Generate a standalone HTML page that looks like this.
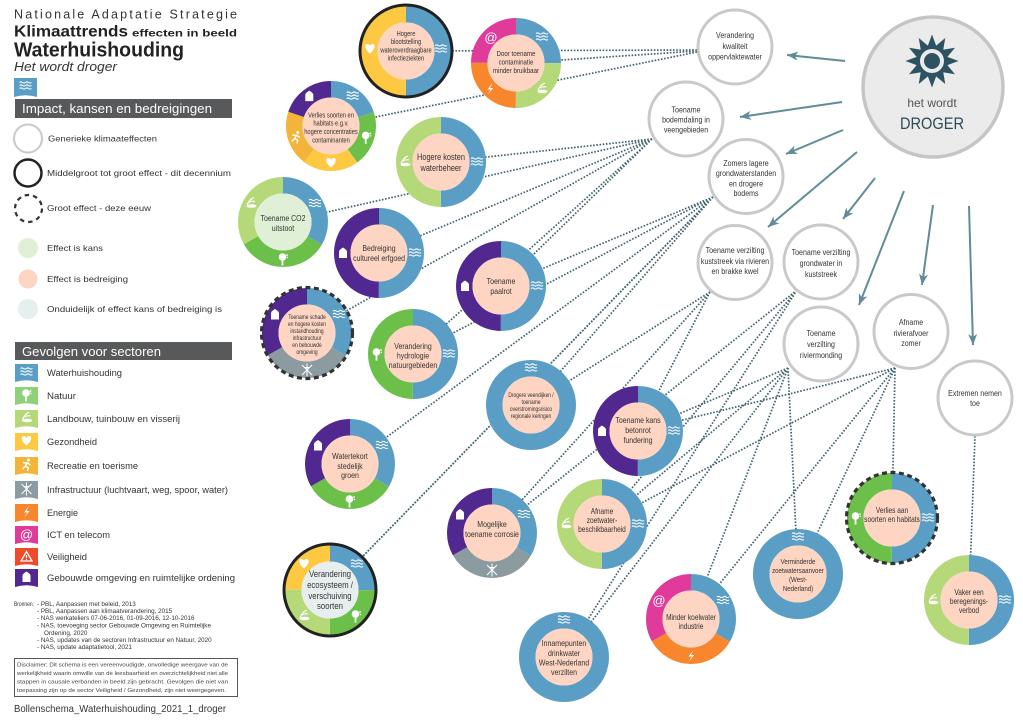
<!DOCTYPE html>
<html><head><meta charset="utf-8"><style>
html,body{margin:0;padding:0;background:#fff;}
svg{display:block;}
</style></head>
<body>
<svg width="1023" height="725" viewBox="0 0 1023 725" xmlns="http://www.w3.org/2000/svg" font-family="'Liberation Sans', Arial, sans-serif">
<defs>
<marker id="ah" markerWidth="12" markerHeight="10" refX="11" refY="5" orient="auto" markerUnits="userSpaceOnUse"><path d="M0,0.5 L11,5 L0,9.5 L3,5 Z" fill="#5f8c96"/></marker>
<g id="iw" stroke="#fff" stroke-width="1.1" fill="none"><path d="M-6,-3.5 q1.5,-1.2 3,0 t3,0 t3,0 t3,0 M-6,-0.5 q1.5,-1.2 3,0 t3,0 t3,0 t3,0 M-6,2.5 q1.5,-1.2 3,0 t3,0 t3,0 t3,0"/></g>
<g id="ih"><path d="M0,4.5 C-6,-0.5 -5.5,-5 -2.7,-5 C-1.2,-5 -0.3,-4 0,-3 C0.3,-4 1.2,-5 2.7,-5 C5.5,-5 6,-0.5 0,4.5Z" fill="#fff"/></g>
<g id="ib"><path d="M-4,5V-1.5Q-4,-3 0,-5.5Q4,-3 4,-1.5V5Z" fill="#fff"/></g>
<g id="it"><circle cx="-0.5" cy="-2" r="3.8" fill="#fff"/><rect x="-1.4" y="1" width="1.8" height="5.5" fill="#fff"/><circle cx="4" cy="-4" r="0.9" fill="#fff"/><circle cx="4.5" cy="-1.5" r="0.7" fill="#fff"/></g>
<g id="il"><ellipse cx="0.5" cy="2.5" rx="5" ry="1.8" fill="#fff"/><path d="M-4,1.5 Q-2,-4 3,-6 M-2,-1 Q1,-3 4,-2" stroke="#fff" fill="none" stroke-width="1.2"/></g>
<g id="ie"><path d="M2.5,-6 L-2.5,0.5 H0.8 L-2.5,6 L3.2,-1 H0 Z" fill="#fff"/></g>
<g id="ix" stroke="#fff" stroke-width="1" fill="none"><path d="M-5,-5L5,5M5,-5L-5,5M0,-6.5V6.5M-2,-2.5h4"/></g>
<g id="ir"><circle cx="2" cy="-5" r="1.5" fill="#fff"/><path d="M1,-3 L-1,1 L2,3 L1,6 M-1,1 L-4,4 M0,-2 L-3.5,-2.5 M1,-2 L4,0" stroke="#fff" stroke-width="1.4" fill="none"/></g>
<g id="iv"><path d="M0,-5 L5.5,4.5 H-5.5Z" fill="none" stroke="#fff" stroke-width="1.3"/><path d="M0,-1.5V1.6" stroke="#fff" stroke-width="1.2"/><circle cx="0" cy="3" r="0.6" fill="#fff"/></g>
</defs>

<!-- ============ LEFT LEGEND ============ -->
<text x="14" y="18.5" font-family="'Liberation Sans', 'DejaVu Sans', sans-serif" font-size="12.5" fill="#333" textLength="223" lengthAdjust="spacing">Nationale Adaptatie Strategie</text>
<text x="14" y="36.5" font-family="'Liberation Sans', 'DejaVu Sans', sans-serif" font-size="16" font-weight="bold" fill="#222" textLength="114" lengthAdjust="spacingAndGlyphs">Klimaattrends</text>
<text x="132" y="36.5" font-family="'Liberation Sans', 'DejaVu Sans', sans-serif" font-size="10" font-weight="bold" fill="#222" textLength="105" lengthAdjust="spacingAndGlyphs">effecten in beeld</text>
<text x="14" y="56.5" font-family="'Liberation Sans', 'DejaVu Sans', sans-serif" font-size="20" font-weight="bold" fill="#222" textLength="170" lengthAdjust="spacingAndGlyphs">Waterhuishouding</text>
<text x="14" y="71" font-family="'Liberation Sans', 'DejaVu Sans', sans-serif" font-size="13" font-style="italic" fill="#333" textLength="103" lengthAdjust="spacingAndGlyphs">Het wordt droger</text>
<g transform="translate(14,78)"><path d="M0,0H23V19Q11.5,15.5 0,19Z" fill="#5a9ec6"/><use href="#iw" x="11.5" y="8"/></g>

<rect x="15" y="99" width="217" height="19" fill="#58595b"/>
<text x="22" y="113" font-size="13" fill="#fff" textLength="190" lengthAdjust="spacingAndGlyphs">Impact, kansen en bedreigingen</text>

<circle cx="28" cy="138.5" r="14" fill="none" stroke="#c9c9c9" stroke-width="2"/>
<text x="48" y="141.5" font-size="8.5" fill="#333" textLength="109" lengthAdjust="spacingAndGlyphs">Generieke klimaateffecten</text>
<circle cx="28" cy="173" r="13.5" fill="none" stroke="#222" stroke-width="2.5"/>
<text x="47" y="176" font-size="8.5" fill="#333" textLength="184" lengthAdjust="spacingAndGlyphs">Middelgroot tot groot effect - dit decennium</text>
<circle cx="28.5" cy="208.5" r="13.5" fill="none" stroke="#333" stroke-width="2.2" stroke-dasharray="4.5 4"/>
<text x="47" y="211" font-size="8.5" fill="#333" textLength="104" lengthAdjust="spacingAndGlyphs">Groot effect - deze eeuw</text>
<circle cx="28" cy="248" r="10" fill="#dff0d6"/>
<text x="47" y="251" font-size="8.5" fill="#333" textLength="56" lengthAdjust="spacingAndGlyphs">Effect is kans</text>
<circle cx="28" cy="279" r="9.5" fill="#fdd5c2"/>
<text x="47" y="282" font-size="8.5" fill="#333" textLength="81" lengthAdjust="spacingAndGlyphs">Effect is bedreiging</text>
<circle cx="28" cy="309" r="10" fill="#e7eeee"/>
<text x="47" y="312" font-size="8.5" fill="#333" textLength="175" lengthAdjust="spacingAndGlyphs">Onduidelijk of effect kans of bedreiging is</text>

<rect x="15" y="342" width="217" height="18" fill="#58595b"/>
<text x="22" y="356" font-size="13" fill="#fff" textLength="139" lengthAdjust="spacingAndGlyphs">Gevolgen voor sectoren</text>

<g font-size="9" fill="#333">
<g transform="translate(15,364)"><path d="M0,0H23V18Q11.5,14.5 0,18Z" fill="#5a9ec6"/><use href="#iw" x="11.5" y="8"/></g>
<text x="47" y="376" textLength="75" lengthAdjust="spacingAndGlyphs">Waterhuishouding</text>
<g transform="translate(15,387)"><path d="M0,0H23V18Q11.5,14.5 0,18Z" fill="#8fd07a"/><use href="#it" x="11.5" y="8"/></g>
<text x="47" y="399" textLength="29" lengthAdjust="spacingAndGlyphs">Natuur</text>
<g transform="translate(15,410)"><path d="M0,0H23V18Q11.5,14.5 0,18Z" fill="#b5d878"/><use href="#il" x="11.5" y="8"/></g>
<text x="47" y="422" textLength="133" lengthAdjust="spacingAndGlyphs">Landbouw, tuinbouw en visserij</text>
<g transform="translate(15,433)"><path d="M0,0H23V18Q11.5,14.5 0,18Z" fill="#fdc943"/><use href="#ih" x="11.5" y="8"/></g>
<text x="47" y="445" textLength="50" lengthAdjust="spacingAndGlyphs">Gezondheid</text>
<g transform="translate(15,457)"><path d="M0,0H23V18Q11.5,14.5 0,18Z" fill="#f3b43a"/><use href="#ir" x="11.5" y="8"/></g>
<text x="47" y="469" textLength="91" lengthAdjust="spacingAndGlyphs">Recreatie en toerisme</text>
<g transform="translate(15,481)"><path d="M0,0H23V18Q11.5,14.5 0,18Z" fill="#8b9ba0"/><use href="#ix" x="11.5" y="8"/></g>
<text x="47" y="493" textLength="181" lengthAdjust="spacingAndGlyphs">Infrastructuur (luchtvaart, weg, spoor, water)</text>
<g transform="translate(15,504)"><path d="M0,0H23V18Q11.5,14.5 0,18Z" fill="#f7862d"/><use href="#ie" x="11.5" y="8"/></g>
<text x="47" y="516" textLength="31" lengthAdjust="spacingAndGlyphs">Energie</text>
<g transform="translate(15,526)"><path d="M0,0H23V18Q11.5,14.5 0,18Z" fill="#e03b9b"/><text x="11.5" y="13" font-size="13" fill="#fff" text-anchor="middle">@</text></g>
<text x="47" y="538" textLength="63" lengthAdjust="spacingAndGlyphs">ICT en telecom</text>
<g transform="translate(15,548)"><path d="M0,0H23V18Q11.5,14.5 0,18Z" fill="#f04a2a"/><use href="#iv" x="11.5" y="8.5"/></g>
<text x="47" y="560" textLength="40" lengthAdjust="spacingAndGlyphs">Veiligheid</text>
<g transform="translate(15,569)"><path d="M0,0H23V18Q11.5,14.5 0,18Z" fill="#51288f"/><use href="#ib" x="11.5" y="8"/></g>
<text x="47" y="581" textLength="188" lengthAdjust="spacingAndGlyphs">Gebouwde omgeving en ruimtelijke ordening</text>
</g>

<g font-size="6.3" fill="#333">
<text x="14" y="606" textLength="20" lengthAdjust="spacingAndGlyphs">Bronnen:</text>
<text x="37" y="606">- PBL, Aanpassen met beleid, 2013</text>
<text x="37" y="613">- PBL, Aanpassen aan klimaatverandering, 2015</text>
<text x="37" y="620">- NAS werkateliers 07-06-2016, 01-09-2016, 12-10-2016</text>
<text x="37" y="627.5">- NAS, toevoeging sector Gebouwde Omgeving en Ruimtelijke</text>
<text x="44" y="635">Ordening, 2020</text>
<text x="37" y="642">- NAS, updates van de sectoren Infrastructuur en Natuur, 2020</text>
<text x="37" y="649">- NAS, update adaptatietool, 2021</text>
</g>
<rect x="14.5" y="658.5" width="223" height="38" fill="none" stroke="#555" stroke-width="1"/>
<g font-size="5.6" fill="#444">
<text x="17" y="666.5" textLength="211" lengthAdjust="spacingAndGlyphs">Disclaimer: Dit schema  is  een vereenvoudigde, onvolledige weergave van de</text>
<text x="17" y="675" textLength="211" lengthAdjust="spacingAndGlyphs">werkelijkheid waarin omwille van de leesbaarheid en overzichtelijkheid niet alle</text>
<text x="17" y="683.5" textLength="211" lengthAdjust="spacingAndGlyphs">stappen in causale verbanden in beeld zijn gebracht. Gevolgen die niet van</text>
<text x="17" y="692" textLength="209" lengthAdjust="spacingAndGlyphs">toepassing zijn op de sector Veiligheid / Gezondheid,  zijn niet weergegeven.</text>
</g>
<text x="14" y="712" font-size="10.5" fill="#333" textLength="212" lengthAdjust="spacingAndGlyphs">Bollenschema_Waterhuishouding_2021_1_droger</text>

<!-- ============ DOTTED CONNECTORS ============ -->
<g stroke="#41616d" stroke-width="1.7" stroke-dasharray="1.6 1.6" fill="none">
<path d="M697,50L406,51M697,51L516,63M697,52L331,126"/>
<path d="M652,139L441,162M652,139L283,222M652,139L379,253M652,139L307,333M652,139L501,286M652,139L413,354"/>
<path d="M713,197L501,286M713,197L413,354M713,197L350,464M713,197L330,590M706,204L330,590M713,197L531,405"/>
<path d="M710,292L531,405M710,292L492,533M710,292L638,431"/>
<path d="M797,290L492,533M797,290L602,524M797,290L564,657"/>
<path d="M788,368L638,431M788,368L602,524M788,368L564,657M788,368L798,574M788,368L691,619"/>
<path d="M895,368L638,431M895,368L602,524M895,368L691,619M895,368L798,574M895,368L892,518"/>
<path d="M975,436L969,600"/>
</g>

<!-- ============ ARROWS ============ -->
<g stroke="#5f8c96" stroke-width="2" marker-end="url(#ah)">
<line x1="845" y1="61" x2="787" y2="55"/>
<line x1="842" y1="102" x2="740" y2="117"/>
<line x1="843" y1="130" x2="786" y2="154"/>
<line x1="857" y1="152" x2="768" y2="227"/>
<line x1="875" y1="178" x2="843" y2="219"/>
<line x1="904" y1="191" x2="859" y2="305"/>
<line x1="933" y1="205" x2="922" y2="285"/>
<line x1="969" y1="206" x2="973" y2="345"/>
</g>

<!-- ============ DROGER ============ -->
<circle cx="933" cy="87" r="70" fill="#ebebeb" stroke="#c5c5c5" stroke-width="3.5"/>
<g transform="translate(932,61)" fill="#2d5262">
<g id="sp"><path d="M0,-26.5 L5,-13 L-5,-13Z"/></g>
<use href="#sp" transform="rotate(30)"/><use href="#sp" transform="rotate(60)"/><use href="#sp" transform="rotate(90)"/>
<use href="#sp" transform="rotate(120)"/><use href="#sp" transform="rotate(150)"/><use href="#sp" transform="rotate(180)"/>
<use href="#sp" transform="rotate(210)"/><use href="#sp" transform="rotate(240)"/><use href="#sp" transform="rotate(270)"/>
<use href="#sp" transform="rotate(300)"/><use href="#sp" transform="rotate(330)"/>
<circle r="16"/><circle r="12" fill="#ebebeb"/><circle r="8"/>
</g>
<text x="932" y="107" font-size="12" fill="#555" text-anchor="middle">het wordt</text>
<text x="932" y="129" font-size="17" fill="#2d4a57" text-anchor="middle" textLength="64" lengthAdjust="spacingAndGlyphs">DROGER</text>

<!-- ============ GENERIC (GRAY) CIRCLES ============ -->
<g font-size="8.6" fill="#333" text-anchor="middle">
<g transform="translate(735,47)"><circle r="37" fill="#fff" stroke="#c9c9c9" stroke-width="3"/>
<g transform="scale(0.82,1)"><text><tspan x="0" y="-9">Verandering</tspan><tspan x="0" y="2">kwaliteit</tspan><tspan x="0" y="12.5">oppervlaktewater</tspan></text></g></g>
<g transform="translate(686,119)"><circle r="37" fill="#fff" stroke="#c9c9c9" stroke-width="3"/>
<g transform="scale(0.82,1)"><text><tspan x="0" y="-6.5">Toename</tspan><tspan x="0" y="3.5">bodemdaling in</tspan><tspan x="0" y="13.5">veengebieden</tspan></text></g></g>
<g transform="translate(746,176.5)"><circle r="37" fill="#fff" stroke="#c9c9c9" stroke-width="3"/>
<g transform="scale(0.82,1)"><text><tspan x="0" y="-10.5">Zomers lagere</tspan><tspan x="0" y="-0.5">grondwaterstanden</tspan><tspan x="0" y="10">en drogere</tspan><tspan x="0" y="19.5">bodems</tspan></text></g></g>
<g transform="translate(735,262.5)"><circle r="37" fill="#fff" stroke="#c9c9c9" stroke-width="3"/>
<g transform="scale(0.82,1)"><text><tspan x="0" y="-9.5">Toename verzilting</tspan><tspan x="0" y="1.5">kuststreek via rivieren</tspan><tspan x="0" y="11.5">en brakke kwel</tspan></text></g></g>
<g transform="translate(821,262)"><circle r="37" fill="#fff" stroke="#c9c9c9" stroke-width="3"/>
<g transform="scale(0.82,1)"><text><tspan x="0" y="-7">Toename verzilting</tspan><tspan x="0" y="4">grondwater in</tspan><tspan x="0" y="15">kuststreek</tspan></text></g></g>
<g transform="translate(821,344)"><circle r="37" fill="#fff" stroke="#c9c9c9" stroke-width="3"/>
<g transform="scale(0.82,1)"><text><tspan x="0" y="-8">Toename</tspan><tspan x="0" y="3">verzilting</tspan><tspan x="0" y="14">riviermonding</tspan></text></g></g>
<g transform="translate(911,331.5)"><circle r="37" fill="#fff" stroke="#c9c9c9" stroke-width="3"/>
<g transform="scale(0.82,1)"><text><tspan x="0" y="-6.5">Afname</tspan><tspan x="0" y="4.5">rivierafvoer</tspan><tspan x="0" y="14.5">zomer</tspan></text></g></g>
<g transform="translate(975,398)"><circle r="37" fill="#fff" stroke="#c9c9c9" stroke-width="3"/>
<g transform="scale(0.82,1)"><text><tspan x="0" y="-2">Extremen nemen</tspan><tspan x="0" y="8">toe</tspan></text></g></g>
</g>

<!-- ============ EFFECT DONUTS ============ -->
<g text-anchor="middle" fill="#333">

<g transform="translate(406,51)">
<g transform="rotate(-90)" fill="none" stroke-width="16.5">
<circle r="36.75" stroke="#5a9ec6" stroke-dasharray="115.45 240" stroke-dashoffset="0"/>
<circle r="36.75" stroke="#fdc943" stroke-dasharray="115.45 240" stroke-dashoffset="-115.45"/>
</g>
<circle r="28.5" fill="#fdd5c2"/>
<use href="#iw" x="35" y="-2"/><use href="#ih" x="-36" y="-2"/>
<circle r="46" fill="none" stroke="#222" stroke-width="3"/>
<g transform="scale(0.82,1)" font-size="7"><text><tspan x="0" y="-15">Hogere</tspan><tspan x="0" y="-7">blootstelling</tspan><tspan x="0" y="1.5">wateroverdraagbare</tspan><tspan x="0" y="9.5">infectieziekten</tspan></text></g>
</g>

<g transform="translate(516,63)">
<g transform="rotate(-90)" fill="none" stroke-width="16.5">
<circle r="36.75" stroke="#5a9ec6" stroke-dasharray="57.73 240" stroke-dashoffset="0"/>
<circle r="36.75" stroke="#b5d878" stroke-dasharray="57.73 240" stroke-dashoffset="-57.73"/>
<circle r="36.75" stroke="#f7862d" stroke-dasharray="57.73 240" stroke-dashoffset="-115.45"/>
<circle r="36.75" stroke="#e03b9b" stroke-dasharray="57.73 240" stroke-dashoffset="-173.18"/>
</g>
<circle r="28.5" fill="#fdd5c2"/>
<use href="#iw" x="26" y="-26"/><use href="#il" x="26" y="26"/><use href="#ie" x="-26" y="26"/>
<text x="-25" y="-21" font-size="13" fill="#fff">@</text>
<g transform="scale(0.82,1)" font-size="7.5"><text><tspan x="0" y="-7">Door toename</tspan><tspan x="0" y="1.5">contaminatie</tspan><tspan x="0" y="10">minder bruikbaar</tspan></text></g>
</g>

<g transform="translate(331,126)">
<g transform="rotate(-90)" fill="none" stroke-width="16.5">
<circle r="36.75" stroke="#5a9ec6" stroke-dasharray="46.18 240" stroke-dashoffset="0"/>
<circle r="36.75" stroke="#6cc04a" stroke-dasharray="46.18 240" stroke-dashoffset="-46.18"/>
<circle r="36.75" stroke="#fdc943" stroke-dasharray="46.18 240" stroke-dashoffset="-92.36"/>
<circle r="36.75" stroke="#f3b43a" stroke-dasharray="46.18 240" stroke-dashoffset="-138.55"/>
<circle r="36.75" stroke="#51288f" stroke-dasharray="46.18 240" stroke-dashoffset="-184.73"/>
</g>
<circle r="28.5" fill="#fdd5c2"/>
<use href="#iw" x="21.7" y="-29.9"/><use href="#it" x="35.2" y="11.4"/><use href="#ih" x="0" y="37"/><use href="#ir" x="-35.2" y="11.4"/><use href="#ib" x="-21.7" y="-29.9"/>
<g transform="scale(0.82,1)" font-size="7"><text><tspan x="0" y="-8.5">Verlies soorten en</tspan><tspan x="0" y="-0.5">habitats e.g.v.</tspan><tspan x="0" y="8">hogere concentraties</tspan><tspan x="0" y="16.5">contaminanten</tspan></text></g>
</g>

<g transform="translate(441,162)">
<g transform="rotate(-90)" fill="none" stroke-width="16.5">
<circle r="36.75" stroke="#5a9ec6" stroke-dasharray="115.45 240" stroke-dashoffset="0"/>
<circle r="36.75" stroke="#b5d878" stroke-dasharray="115.45 240" stroke-dashoffset="-115.45"/>
</g>
<circle r="28.5" fill="#fdd5c2"/>
<use href="#iw" x="36" y="0"/><use href="#il" x="-36" y="0"/>
<g transform="scale(0.82,1)" font-size="9"><text><tspan x="0" y="-2">Hogere kosten</tspan><tspan x="0" y="9">waterbeheer</tspan></text></g>
</g>

<g transform="translate(283,222)">
<g transform="rotate(-90)" fill="none" stroke-width="16.5">
<circle r="36.75" stroke="#5a9ec6" stroke-dasharray="76.97 240" stroke-dashoffset="0"/>
<circle r="36.75" stroke="#6cc04a" stroke-dasharray="76.97 240" stroke-dashoffset="-76.97"/>
<circle r="36.75" stroke="#b5d878" stroke-dasharray="76.97 240" stroke-dashoffset="-153.94"/>
</g>
<circle r="28.5" fill="#dff0d6"/>
<use href="#iw" x="32" y="-18.5"/><use href="#it" x="0" y="37"/><use href="#il" x="-32" y="-18.5"/>
<g transform="scale(0.82,1)" font-size="8.5"><text><tspan x="0" y="-1">Toename CO2</tspan><tspan x="0" y="9">uitstoot</tspan></text></g>
</g>

<g transform="translate(379,253)">
<g transform="rotate(-90)" fill="none" stroke-width="16.5">
<circle r="36.75" stroke="#5a9ec6" stroke-dasharray="115.45 240" stroke-dashoffset="0"/>
<circle r="36.75" stroke="#51288f" stroke-dasharray="115.45 240" stroke-dashoffset="-115.45"/>
</g>
<circle r="28.5" fill="#fdd5c2"/>
<use href="#iw" x="36" y="0"/><use href="#ib" x="-36" y="0"/>
<g transform="scale(0.82,1)" font-size="8.5"><text><tspan x="0" y="-2">Bedreiging</tspan><tspan x="0" y="8">cultureel erfgoed</tspan></text></g>
</g>

<g transform="translate(501,286)">
<g transform="rotate(-90)" fill="none" stroke-width="16.5">
<circle r="36.75" stroke="#5a9ec6" stroke-dasharray="115.45 240" stroke-dashoffset="0"/>
<circle r="36.75" stroke="#51288f" stroke-dasharray="115.45 240" stroke-dashoffset="-115.45"/>
</g>
<circle r="28.5" fill="#fdd5c2"/>
<use href="#iw" x="36" y="0"/><use href="#ib" x="-36" y="0"/>
<g transform="scale(0.82,1)" font-size="8.5"><text><tspan x="0" y="-2">Toename</tspan><tspan x="0" y="8">paalrot</tspan></text></g>
</g>

<g transform="translate(307,333)">
<g transform="rotate(-90)" fill="none" stroke-width="16.5">
<circle r="36.75" stroke="#5a9ec6" stroke-dasharray="76.97 240" stroke-dashoffset="0"/>
<circle r="36.75" stroke="#8b9ba0" stroke-dasharray="76.97 240" stroke-dashoffset="-76.97"/>
<circle r="36.75" stroke="#51288f" stroke-dasharray="76.97 240" stroke-dashoffset="-153.94"/>
</g>
<circle r="28.5" fill="#fdd5c2"/>
<use href="#iw" x="32" y="-18.5"/><use href="#ix" x="0" y="37"/><use href="#ib" x="-32" y="-18.5"/>
<circle r="45.5" fill="none" stroke="#333" stroke-width="3.2" stroke-dasharray="5 3.5"/>
<g transform="scale(0.82,1)" font-size="6"><text><tspan x="0" y="-14">Toename schade</tspan><tspan x="0" y="-7">en hogere kosten</tspan><tspan x="0" y="0">instandhouding</tspan><tspan x="0" y="7">infrastructuur</tspan><tspan x="0" y="14">en bebouwde</tspan><tspan x="0" y="21">omgeving</tspan></text></g>
</g>

<g transform="translate(413,354)">
<g transform="rotate(-90)" fill="none" stroke-width="16.5">
<circle r="36.75" stroke="#5a9ec6" stroke-dasharray="115.45 240" stroke-dashoffset="0"/>
<circle r="36.75" stroke="#6cc04a" stroke-dasharray="115.45 240" stroke-dashoffset="-115.45"/>
</g>
<circle r="28.5" fill="#fdd5c2"/>
<use href="#iw" x="36" y="0"/><use href="#it" x="-36" y="0"/>
<g transform="scale(0.82,1)" font-size="8.5"><text><tspan x="0" y="-5">Verandering</tspan><tspan x="0" y="4.5">hydrologie</tspan><tspan x="0" y="14">natuurgebieden</tspan></text></g>
</g>

<g transform="translate(531,405)">
<circle r="36.75" fill="none" stroke="#5a9ec6" stroke-width="16.5"/>
<circle r="28.5" fill="#fdd5c2"/>
<use href="#iw" x="0" y="-37"/>
<g transform="scale(0.82,1)" font-size="6"><text><tspan x="0" y="-8">Drogere veendijken /</tspan><tspan x="0" y="-1">toename</tspan><tspan x="0" y="6">overstromingsrisico</tspan><tspan x="0" y="13">regionale keringen</tspan></text></g>
</g>

<g transform="translate(638,431)">
<g transform="rotate(-90)" fill="none" stroke-width="16.5">
<circle r="36.75" stroke="#5a9ec6" stroke-dasharray="115.45 240" stroke-dashoffset="0"/>
<circle r="36.75" stroke="#51288f" stroke-dasharray="115.45 240" stroke-dashoffset="-115.45"/>
</g>
<circle r="28.5" fill="#fdd5c2"/>
<use href="#iw" x="36" y="0"/><use href="#ib" x="-36" y="0"/>
<g transform="scale(0.82,1)" font-size="8.5"><text><tspan x="0" y="-8">Toename kans</tspan><tspan x="0" y="2">betonrot</tspan><tspan x="0" y="12">fundering</tspan></text></g>
</g>

<g transform="translate(350,464)">
<g transform="rotate(-90)" fill="none" stroke-width="16.5">
<circle r="36.75" stroke="#5a9ec6" stroke-dasharray="76.97 240" stroke-dashoffset="0"/>
<circle r="36.75" stroke="#6cc04a" stroke-dasharray="76.97 240" stroke-dashoffset="-76.97"/>
<circle r="36.75" stroke="#51288f" stroke-dasharray="76.97 240" stroke-dashoffset="-153.94"/>
</g>
<circle r="28.5" fill="#fdd5c2"/>
<use href="#iw" x="32" y="-18.5"/><use href="#it" x="0" y="37"/><use href="#ib" x="-32" y="-18.5"/>
<g transform="scale(0.82,1)" font-size="8.5"><text><tspan x="0" y="-5">Watertekort</tspan><tspan x="0" y="5">stedelijk</tspan><tspan x="0" y="14">groen</tspan></text></g>
</g>

<g transform="translate(330,590)">
<g transform="rotate(-90)" fill="none" stroke-width="16.5">
<circle r="36.75" stroke="#5a9ec6" stroke-dasharray="57.73 240" stroke-dashoffset="0"/>
<circle r="36.75" stroke="#6cc04a" stroke-dasharray="57.73 240" stroke-dashoffset="-57.73"/>
<circle r="36.75" stroke="#b5d878" stroke-dasharray="57.73 240" stroke-dashoffset="-115.45"/>
<circle r="36.75" stroke="#fdc943" stroke-dasharray="57.73 240" stroke-dashoffset="-173.18"/>
</g>
<circle r="28.5" fill="#e7eeee"/>
<use href="#iw" x="27" y="-26"/><use href="#it" x="26" y="26"/><use href="#il" x="-26" y="26"/><use href="#ih" x="-26" y="-26"/>
<circle r="46" fill="none" stroke="#222" stroke-width="3"/>
<g transform="scale(0.82,1)" font-size="9.5"><text><tspan x="0" y="-13">Verandering</tspan><tspan x="0" y="-2">ecosysteem /</tspan><tspan x="0" y="9">verschuiving</tspan><tspan x="0" y="19">soorten</tspan></text></g>
</g>

<g transform="translate(492,533)">
<g transform="rotate(-90)" fill="none" stroke-width="16.5">
<circle r="36.75" stroke="#5a9ec6" stroke-dasharray="76.97 240" stroke-dashoffset="0"/>
<circle r="36.75" stroke="#8b9ba0" stroke-dasharray="76.97 240" stroke-dashoffset="-76.97"/>
<circle r="36.75" stroke="#51288f" stroke-dasharray="76.97 240" stroke-dashoffset="-153.94"/>
</g>
<circle r="28.5" fill="#fdd5c2"/>
<use href="#iw" x="32" y="-18.5"/><use href="#ix" x="0" y="37"/><use href="#ib" x="-32" y="-18.5"/>
<g transform="scale(0.82,1)" font-size="8.5"><text><tspan x="0" y="-6">Mogelijke</tspan><tspan x="0" y="4">toename corrosie</tspan></text></g>
</g>

<g transform="translate(602,524)">
<g transform="rotate(-90)" fill="none" stroke-width="16.5">
<circle r="36.75" stroke="#5a9ec6" stroke-dasharray="115.45 240" stroke-dashoffset="0"/>
<circle r="36.75" stroke="#b5d878" stroke-dasharray="115.45 240" stroke-dashoffset="-115.45"/>
</g>
<circle r="28.5" fill="#fdd5c2"/>
<use href="#iw" x="36" y="0"/><use href="#il" x="-36" y="0"/>
<g transform="scale(0.82,1)" font-size="8"><text><tspan x="0" y="-10">Afname</tspan><tspan x="0" y="-1">zoetwater-</tspan><tspan x="0" y="8">beschikbaarheid</tspan></text></g>
</g>

<g transform="translate(564,657)">
<circle r="36.75" fill="none" stroke="#5a9ec6" stroke-width="16.5"/>
<circle r="28.5" fill="#fdd5c2"/>
<use href="#iw" x="0" y="-37"/>
<g transform="scale(0.82,1)" font-size="8.5"><text><tspan x="0" y="-11">Innamepunten</tspan><tspan x="0" y="-1">drinkwater</tspan><tspan x="0" y="8.5">West-Nederland</tspan><tspan x="0" y="18">verzilten</tspan></text></g>
</g>

<g transform="translate(691,619)">
<g transform="rotate(-90)" fill="none" stroke-width="16.5">
<circle r="36.75" stroke="#5a9ec6" stroke-dasharray="76.97 240" stroke-dashoffset="0"/>
<circle r="36.75" stroke="#f7862d" stroke-dasharray="76.97 240" stroke-dashoffset="-76.97"/>
<circle r="36.75" stroke="#e03b9b" stroke-dasharray="76.97 240" stroke-dashoffset="-153.94"/>
</g>
<circle r="28.5" fill="#fdd5c2"/>
<use href="#iw" x="32" y="-18.5"/><use href="#ie" x="0" y="37"/>
<text x="-32" y="-14" font-size="13" fill="#fff">@</text>
<g transform="scale(0.82,1)" font-size="8"><text><tspan x="0" y="1">Minder koelwater</tspan><tspan x="0" y="10">industrie</tspan></text></g>
</g>

<g transform="translate(798,574)">
<circle r="36.75" fill="none" stroke="#5a9ec6" stroke-width="16.5"/>
<circle r="28.5" fill="#fdd5c2"/>
<use href="#iw" x="0" y="-37"/>
<g transform="scale(0.82,1)" font-size="7.5"><text><tspan x="0" y="-10">Verminderde</tspan><tspan x="0" y="-1">zoetwatersaanvoer</tspan><tspan x="0" y="8">(West-</tspan><tspan x="0" y="17">Nederland)</tspan></text></g>
</g>

<g transform="translate(892,518)">
<g transform="rotate(-90)" fill="none" stroke-width="16.5">
<circle r="36.75" stroke="#5a9ec6" stroke-dasharray="115.45 240" stroke-dashoffset="0"/>
<circle r="36.75" stroke="#6cc04a" stroke-dasharray="115.45 240" stroke-dashoffset="-115.45"/>
</g>
<circle r="28.5" fill="#fdd5c2"/>
<use href="#iw" x="36" y="0"/><use href="#it" x="-36" y="0"/>
<circle r="45.5" fill="none" stroke="#333" stroke-width="3.2" stroke-dasharray="5 3.5"/>
<g transform="scale(0.82,1)" font-size="8"><text><tspan x="0" y="-5">Verlies aan</tspan><tspan x="0" y="4">soorten en habitats</tspan></text></g>
</g>

<g transform="translate(969,600)">
<g transform="rotate(-90)" fill="none" stroke-width="16.5">
<circle r="36.75" stroke="#5a9ec6" stroke-dasharray="115.45 240" stroke-dashoffset="0"/>
<circle r="36.75" stroke="#b5d878" stroke-dasharray="115.45 240" stroke-dashoffset="-115.45"/>
</g>
<circle r="28.5" fill="#fdd5c2"/>
<use href="#iw" x="36" y="0"/><use href="#il" x="-36" y="0"/>
<g transform="scale(0.82,1)" font-size="8"><text><tspan x="0" y="-5">Vaker een</tspan><tspan x="0" y="4">beregenings-</tspan><tspan x="0" y="13">verbod</tspan></text></g>
</g>

</g>
</svg>
</body></html>
